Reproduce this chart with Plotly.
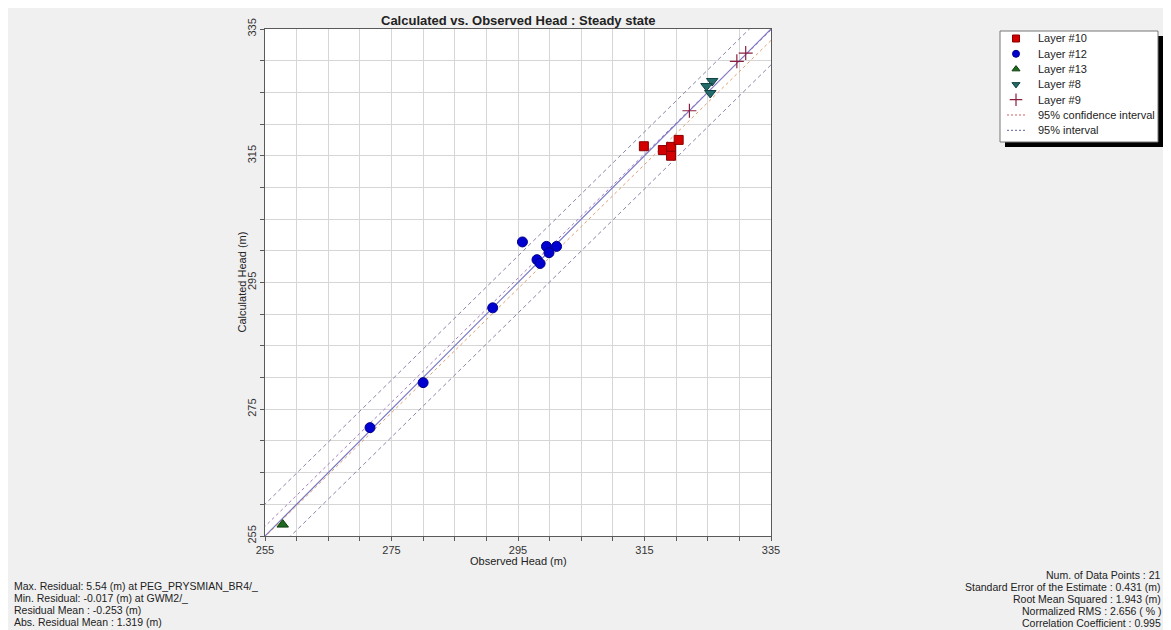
import numpy as np
import plotly.graph_objects as go

# ---- data (observed, calculated) ----
layer10_obs = [314.9, 317.9, 319.2, 320.4, 319.2]
layer10_calc = [316.5, 315.9, 316.4, 317.5, 315.0]

layer12_obs = [295.7, 299.5, 301.1, 299.9, 298.0, 298.5, 291.0, 280.0, 271.6]
layer12_calc = [301.4, 300.7, 300.7, 299.7, 298.6, 298.0, 291.0, 279.2, 272.1]

layer13_obs = [257.8]
layer13_calc = [256.8]

layer8_obs = [325.7, 324.8, 325.4]
layer8_calc = [326.8, 326.0, 324.9]

layer9_obs = [322.1, 329.6, 331.0]
layer9_calc = [322.1, 329.9, 331.2]

# regression / interval parameters
reg_slope = 0.979
reg_intercept = 5.88
conf_offsets = [1.0, -0.65]      # confidence interval offsets around regression
pred_halfwidth = 4.5             # 95% interval half width

axis_min, axis_max = 255, 335
tick_step = 5
label_step = 20

legend_names = ["Layer #10", "Layer #12", "Layer #13", "Layer #8", "Layer #9",
                "95% confidence interval", "95% interval"]

stats_left = [
    "Max. Residual: 5.54 (m) at PEG_PRYSMIAN_BR4/_",
    "Min. Residual: -0.017 (m) at GWM2/_",
    "Residual Mean : -0.253 (m)",
    "Abs. Residual Mean : 1.319 (m)",
]
stats_right = [
    "Num. of Data Points : 21",
    "Standard Error of the Estimate : 0.431 (m)",
    "Root Mean Squared : 1.943 (m)",
    "Normalized RMS : 2.656 ( % )",
    "Correlation Coefficient : 0.995",
]

FONT = "Liberation Sans, Arial, sans-serif"

# page geometry: browser body has an 8px margin
OFF = 8
W, H = 1171 - OFF, 630 - OFF
L, R, T, B = 265, 771, 29, 536          # plot area in window pixels
LG_L, LG_R, LG_T, LG_B = 1000, 1158, 31, 142   # legend box in window pixels


def fx(p):
    return (p - OFF) / W


def fy(p):
    return 1 - (p - OFF) / H


fig = go.Figure()

xs = np.array([axis_min - 5, axis_max + 5], dtype=float)

# 1:1 line
fig.add_trace(go.Scatter(x=xs, y=xs, mode="lines", line=dict(color="#7474c4", width=1.2),
                         showlegend=False, hoverinfo="skip"))
reg = reg_slope * xs + reg_intercept
conf_colors = ["#a47cc0", "#e0a070"]
for i, off in enumerate(conf_offsets):
    fig.add_trace(go.Scatter(x=xs, y=reg + off, mode="lines",
                             line=dict(color=conf_colors[i], width=1, dash="3px,3px"),
                             showlegend=False, hoverinfo="skip"))
for sgn in (1, -1):
    fig.add_trace(go.Scatter(x=xs, y=reg + sgn * pred_halfwidth, mode="lines",
                             line=dict(color="#8c86aa", width=1, dash="4px,3px"),
                             showlegend=False, hoverinfo="skip"))

markers = [
    dict(symbol="square", size=9, color="#d40000", line=dict(color="#8a0000", width=1)),
    dict(symbol="circle", size=10, color="#0000d0", line=dict(color="#00008a", width=1)),
    dict(symbol="triangle-up", size=10, color="#1e6a1e", line=dict(color="#0f3f0f", width=1)),
    dict(symbol="triangle-down", size=10, color="#236a6a", line=dict(color="#134040", width=1)),
    dict(symbol="cross-thin", size=10, color="#8a2040", line=dict(color="#8a2040", width=1.2)),
]
series = [(layer10_obs, layer10_calc), (layer12_obs, layer12_calc), (layer13_obs, layer13_calc),
          (layer8_obs, layer8_calc), (layer9_obs, layer9_calc)]
for (ox, oy), mk, nm in zip(series, markers, legend_names):
    fig.add_trace(go.Scatter(x=ox, y=oy, mode="markers", name=nm, marker=mk, showlegend=False))

# ---- custom legend on its own hidden axes (pixel coordinates) ----
row_y0, row_dy = 38.5, 15.3
sym_x, text_x = 1016, 1036
for i, mk in enumerate(markers):
    m = dict(mk)
    m["size"] = 7 if m["symbol"] != "cross-thin" else 9
    fig.add_trace(go.Scatter(x=[sym_x], y=[row_y0 + row_dy * i], xaxis="x2", yaxis="y2",
                             mode="markers", marker=m, showlegend=False, hoverinfo="skip"))
line_cols = ["#d06060", "#6060a0"]
for j, c in enumerate(line_cols):
    yy = row_y0 + row_dy * (5 + j)
    fig.add_trace(go.Scatter(x=[1007, 1027], y=[yy, yy], xaxis="x2", yaxis="y2",
                             mode="lines", line=dict(color=c, width=1, dash="2px,2px"),
                             showlegend=False, hoverinfo="skip"))

tickvals = list(range(axis_min, axis_max + 1, tick_step))
ticktext = [str(v) if (v - axis_min) % label_step == 0 else "" for v in tickvals]

axis_common = dict(range=[axis_min, axis_max], tickvals=tickvals, ticktext=ticktext,
                   showgrid=True, gridcolor="#d6d6d6", gridwidth=1,
                   showline=True, linecolor="#5a5a5a", linewidth=1, mirror=True,
                   ticks="outside", ticklen=4, tickcolor="#5a5a5a",
                   tickfont=dict(family=FONT, size=11, color="#333"),
                   zeroline=False, fixedrange=True)

hidden = dict(visible=False, showgrid=False, zeroline=False, fixedrange=True)

annotations = []
annotations.append(dict(text="<b>Calculated vs. Observed Head : Steady state</b>",
                        x=fx((L + R) / 2), y=fy(20), xref="paper", yref="paper", showarrow=False,
                        xanchor="center", yanchor="middle",
                        font=dict(family=FONT, size=13, color="#222")))
annotations.append(dict(text="Observed Head (m)", x=fx((L + R) / 2), y=fy(561),
                        xref="paper", yref="paper", showarrow=False,
                        xanchor="center", yanchor="middle",
                        font=dict(family=FONT, size=11, color="#222")))
annotations.append(dict(text="Calculated Head (m)", x=fx(241), y=fy((T + B) / 2), textangle=-90,
                        xref="paper", yref="paper", showarrow=False,
                        xanchor="center", yanchor="middle",
                        font=dict(family=FONT, size=11, color="#222")))
for i, t in enumerate(stats_left):
    annotations.append(dict(text=t, x=fx(12), y=fy(586 + 12 * i), xref="paper", yref="paper",
                            showarrow=False, xanchor="left", yanchor="middle",
                            font=dict(family=FONT, size=10.5, color="#222")))
for i, t in enumerate(stats_right):
    annotations.append(dict(text=t, x=fx(1163), y=fy(575 + 12 * i), xref="paper", yref="paper",
                            showarrow=False, xanchor="right", yanchor="middle",
                            font=dict(family=FONT, size=10.5, color="#222")))
for i, t in enumerate(legend_names):
    annotations.append(dict(text=t, x=text_x, y=row_y0 + row_dy * i, xref="x2", yref="y2",
                            showarrow=False, xanchor="left", yanchor="middle",
                            font=dict(family=FONT, size=11, color="#222")))

shapes = [
    # shadow
    dict(type="rect", xref="paper", yref="paper",
         x0=fx(LG_L + 5), x1=fx(LG_R + 5), y0=fy(LG_B + 5), y1=fy(LG_T + 5),
         fillcolor="#000000", line=dict(width=0), layer="below"),
    # box
    dict(type="rect", xref="paper", yref="paper",
         x0=fx(LG_L), x1=fx(LG_R), y0=fy(LG_B), y1=fy(LG_T),
         fillcolor="#ffffff", line=dict(color="#777777", width=1), layer="below"),
]

fig.update_layout(
    width=W, height=H,
    margin=dict(l=0, r=0, t=0, b=0, autoexpand=False),
    paper_bgcolor="#f0f0f0", plot_bgcolor="#ffffff",
    font=dict(family=FONT, size=11, color="#222"),
    showlegend=False,
    xaxis=dict(domain=[fx(L), fx(R)], anchor="y", **axis_common),
    yaxis=dict(domain=[fy(B), fy(T)], anchor="x", tickangle=-90, **axis_common),
    xaxis2=dict(domain=[fx(LG_L), fx(LG_R)], range=[LG_L, LG_R], anchor="y2", **hidden),
    yaxis2=dict(domain=[fy(LG_B), fy(LG_T)], range=[LG_B, LG_T], anchor="x2", **hidden),
    annotations=annotations, shapes=shapes,
)

fig.write_html("out.html", config={"displayModeBar": False})
